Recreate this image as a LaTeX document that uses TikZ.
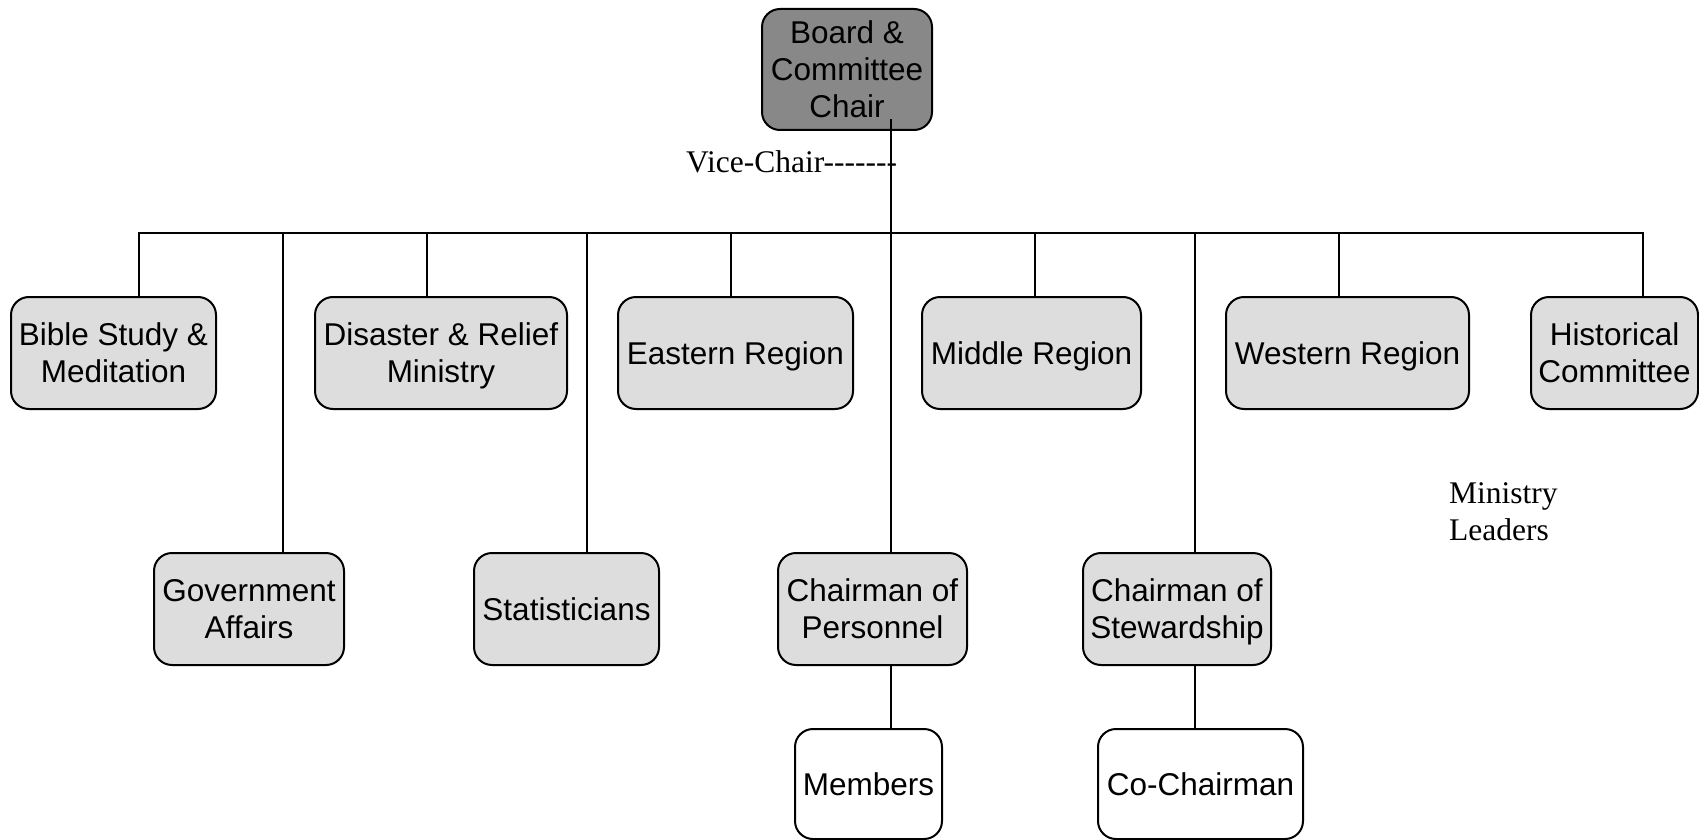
\documentclass[tikz,border=0pt]{standalone}
\usepackage{fontspec}
\setmainfont{Liberation Serif}[Ligatures=TeXOff]
\setsansfont{Liberation Sans}
\definecolor{chairfill}{HTML}{888888}
\definecolor{unitfill}{HTML}{DDDDDD}
\begin{document}
\begin{tikzpicture}[x=1pt,y=-1pt,
  box/.style={draw=black, line width=2pt, rounded corners=18pt, inner sep=0pt,
    align=center, text depth=0pt, font=\sffamily\fontsize{31.5}{37}\selectfont},
  unit/.style={box, fill=unitfill},
  member/.style={box, fill=white},
  chair/.style={box, fill=chairfill},
  link/.style={line width=2pt, line cap=rect},
  note/.style={inner sep=0pt, font=\rmfamily\fontsize{31.5}{37}\selectfont}]
\useasboundingbox (0,0) rectangle (1699,840);

% top of the tree
\node[chair, minimum width=170pt, minimum height=121pt] (board) at (847,69.5)
  {Board \&\\Committee\\Chair};

% first row
\node[unit, minimum width=205pt, minimum height=112pt] (bible) at (113.5,353) {Bible Study \&\\Meditation};
\node[unit, minimum width=252pt, minimum height=112pt] (disaster) at (441,353) {Disaster \& Relief\\Ministry};
\node[unit, minimum width=235pt, minimum height=112pt] (eastern) at (735.5,353) {Eastern Region};
\node[unit, minimum width=219pt, minimum height=112pt] (middle) at (1031.5,353) {Middle Region};
\node[unit, minimum width=243pt, minimum height=112pt] (western) at (1347.5,353) {Western Region};
\node[unit, minimum width=167pt, minimum height=112pt] (historical) at (1614.5,353) {Historical\\Committee};

% second row
\node[unit, minimum width=190pt, minimum height=112pt] (government) at (249,609) {Government\\Affairs};
\node[unit, minimum width=185pt, minimum height=112pt] (statisticians) at (566.5,609) {Statisticians};
\node[unit, minimum width=189pt, minimum height=112pt] (personnel) at (872.5,609) {Chairman of\\Personnel};
\node[unit, minimum width=188pt, minimum height=112pt] (stewardship) at (1177,609) {Chairman of\\Stewardship};

% third row
\node[member, minimum width=147pt, minimum height=110pt] (members) at (868.5,784) {Members};
\node[member, minimum width=205pt, minimum height=110pt] (cochair) at (1200.5,784) {Co-Chairman};

% free texts
\node[note, anchor=base west] (vice) at (686,172) {Vice-Chair-------};
\node[note, anchor=base west, align=left] (leaders) at (1449,540) {Ministry\\Leaders};

% branch points on the horizontal bar
\coordinate (spine) at (891,120);
\coordinate (tBible) at (139,233);
\coordinate (tGov) at (283,233);
\coordinate (tDis) at (427,233);
\coordinate (tStat) at (587,233);
\coordinate (tEast) at (731,233);
\coordinate (tMid) at (1035,233);
\coordinate (tStew) at (1195,233);
\coordinate (tWest) at (1339,233);
\coordinate (tHist) at (1643,233);

% connectors
\draw[link] (tBible) -- (tHist);
\draw[link] (spine) -- (spine |- personnel.north);
\draw[link] (spine |- personnel.south) -- (spine |- members.north);
\draw[link] (tBible) -- (tBible |- bible.north);
\draw[link] (tDis) -- (tDis |- disaster.north);
\draw[link] (tEast) -- (tEast |- eastern.north);
\draw[link] (tMid) -- (tMid |- middle.north);
\draw[link] (tWest) -- (tWest |- western.north);
\draw[link] (tHist) -- (tHist |- historical.north);
\draw[link] (tGov) -- (tGov |- government.north);
\draw[link] (tStat) -- (tStat |- statisticians.north);
\draw[link] (tStew) -- (tStew |- stewardship.north);
\draw[link] (tStew |- stewardship.south) -- (tStew |- cochair.north);
\end{tikzpicture}
\end{document}
